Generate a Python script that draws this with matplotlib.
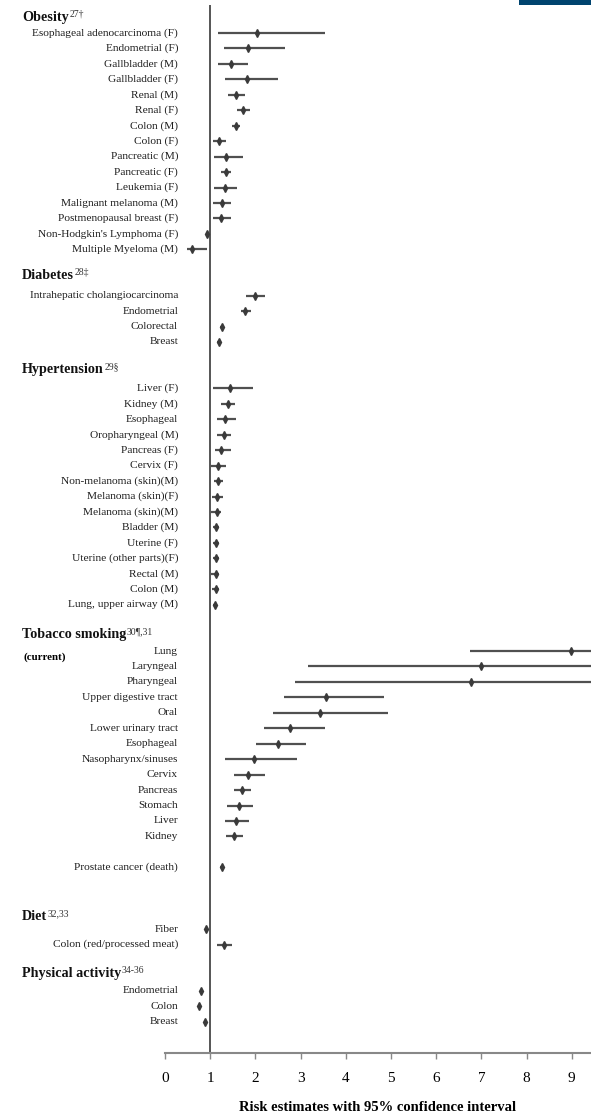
import matplotlib
matplotlib.use("Agg")
import matplotlib.pyplot as plt
from matplotlib.transforms import blended_transform_factory
from matplotlib.patches import Rectangle

# ---------------- data ----------------
obesity_labels = ["Esophageal adenocarcinoma (F)", "Endometrial (F)", "Gallbladder (M)",
                  "Gallbladder (F)", "Renal (M)", "Renal (F)", "Colon (M)", "Colon (F)",
                  "Pancreatic (M)", "Pancreatic (F)", "Leukemia (F)", "Malignant melanoma (M)",
                  "Postmenopausal breast (F)", "Non-Hodgkin's Lymphoma (F)", "Multiple Myeloma (M)"]
obesity_est = [2.04, 1.84, 1.47, 1.82, 1.56, 1.73, 1.57, 1.19, 1.36, 1.34, 1.33, 1.25, 1.23, 0.92, 0.60]
obesity_lo = [1.17, 1.31, 1.18, 1.33, 1.40, 1.60, 1.49, 1.07, 1.08, 1.23, 1.09, 1.07, 1.07, 0.90, 0.48]
obesity_hi = [3.55, 2.65, 1.84, 2.49, 1.78, 1.88, 1.65, 1.35, 1.73, 1.45, 1.60, 1.47, 1.45, 0.95, 0.94]

diabetes_labels = ["Intrahepatic cholangiocarcinoma", "Endometrial", "Colorectal", "Breast"]
diabetes_est = [1.99, 1.78, 1.25, 1.19]
diabetes_lo = [1.79, 1.69, 1.21, 1.16]
diabetes_hi = [2.21, 1.90, 1.29, 1.22]

hyper_labels = ["Liver (F)", "Kidney (M)", "Esophageal", "Oropharyngeal (M)", "Pancreas (F)",
                "Cervix (F)", "Non-melanoma (skin)(M)", "Melanoma (skin)(F)", "Melanoma (skin)(M)",
                "Bladder (M)", "Uterine (F)", "Uterine (other parts)(F)", "Rectal (M)",
                "Colon (M)", "Lung, upper airway (M)"]
hyper_est = [1.44, 1.39, 1.33, 1.31, 1.24, 1.18, 1.18, 1.16, 1.14, 1.13, 1.13, 1.13, 1.13, 1.13, 1.11]
hyper_lo = [1.07, 1.24, 1.14, 1.16, 1.11, 1.01, 1.08, 1.05, 1.02, 1.07, 1.07, 1.06, 1.01, 1.04, 1.07]
hyper_hi = [1.94, 1.55, 1.57, 1.47, 1.47, 1.34, 1.29, 1.28, 1.23, 1.20, 1.20, 1.20, 1.20, 1.20, 1.15]

tobacco_labels = ["Lung", "Laryngeal", "Pharyngeal", "Upper digestive tract", "Oral",
                  "Lower urinary tract", "Esophageal", "Nasopharynx/sinuses", "Cervix",
                  "Pancreas", "Stomach", "Liver", "Kidney"]
tobacco_est = [8.98, 6.99, 6.77, 3.57, 3.44, 2.77, 2.49, 1.96, 1.83, 1.70, 1.63, 1.57, 1.52]
tobacco_lo = [6.75, 3.16, 2.87, 2.64, 2.39, 2.18, 2.02, 1.33, 1.53, 1.53, 1.38, 1.32, 1.34]
tobacco_hi = [10.8, 15.7, 16.6, 4.84, 4.94, 3.53, 3.13, 2.92, 2.21, 1.91, 1.95, 1.86, 1.73]

prostate_labels = ["Prostate cancer (death)"]
prostate_est = [1.25]
prostate_lo = [1.22]
prostate_hi = [1.28]

diet_labels = ["Fiber", "Colon (red/processed meat)"]
diet_est = [0.91, 1.31]
diet_lo = [0.89, 1.14]
diet_hi = [0.93, 1.48]

activity_labels = ["Endometrial", "Colon", "Breast"]
activity_est = [0.80, 0.76, 0.88]
activity_lo = [0.78, 0.74, 0.86]
activity_hi = [0.82, 0.78, 0.90]

x_ticks = [0, 1, 2, 3, 4, 5, 6, 7, 8, 9]

# (title, superscript, labels, estimates, lower, upper, row step from previous section)
sections = [
    ("Obesity", "27\u2020", obesity_labels, obesity_est, obesity_lo, obesity_hi, 1),
    ("Diabetes", "28\u2021", diabetes_labels, diabetes_est, diabetes_lo, diabetes_hi, 3),
    ("Hypertension", "29\u00a7", hyper_labels, hyper_est, hyper_lo, hyper_hi, 3),
    ("Tobacco smoking", "30\u00b6,31", tobacco_labels, tobacco_est, tobacco_lo, tobacco_hi, 3),
    (None, None, prostate_labels, prostate_est, prostate_lo, prostate_hi, 2),
    ("Diet", "32,33", diet_labels, diet_est, diet_lo, diet_hi, 4),
    ("Physical activity", "34-36", activity_labels, activity_est, activity_lo, activity_hi, 3),
]
title_offsets = {"Obesity": 1.0, "Diabetes": 1.3, "Hypertension": 1.2,
                 "Tobacco smoking": 1.05, "Diet": 0.8, "Physical activity": 1.1}

# ---------------- figure ----------------
W, H = 591, 1116
fig = plt.figure(figsize=(W / 100, H / 100), dpi=100)
fig.patch.set_facecolor("white")

serif = ["Liberation Serif", "DejaVu Serif"]
line_col = "#505050"
mark_col = "#3a3a3a"

ax_left_px, ax_bottom_px = 165, 1053
ax = fig.add_axes([ax_left_px / W, 1 - ax_bottom_px / H, 1 - ax_left_px / W, ax_bottom_px / H])

row_px = 15.45          # vertical distance between rows (pixels)
first_row_px = 33       # first row centre from top (pixels)
y_top = -first_row_px / row_px
y_bottom = (ax_bottom_px - first_row_px) / row_px
ax.set_ylim(y_bottom, y_top)
ax.set_xlim(0, (W - ax_left_px) / 45.2)

label_x = 0.29
title_tr = blended_transform_factory(fig.transFigure, ax.transData)

last = -1
for title, sup, labels, est, lo, hi, step in sections:
    rows = [last + step + i for i in range(len(labels))]
    if title is not None:
        t = ax.text(22 / W, rows[0] - title_offsets[title], title, transform=title_tr,
                    ha="left", va="center", fontsize=10.2, fontweight="bold",
                    family=serif, color="#111111", clip_on=False)
        ax.annotate(sup, xy=(1, 1), xycoords=t, xytext=(0.3, 0.8), textcoords="offset points",
                    ha="left", va="top", fontsize=7, family=serif, color="#333333",
                    annotation_clip=False)
    ax.hlines(rows, lo, hi, colors=line_col, linewidth=1.6, zorder=2)
    ax.plot(est, rows, linestyle="none", marker="d", markersize=4.2,
            color=mark_col, zorder=3)
    for r, lab in zip(rows, labels):
        ax.text(label_x, r, lab, ha="right", va="center", fontsize=8.2,
                family=serif, color="#1e1e1e", clip_on=False)
    if title == "Tobacco smoking":
        ax.text(23 / W, rows[0] + 0.4, "(current)", transform=title_tr, ha="left",
                va="center", fontsize=7.8, fontweight="bold", family=serif, clip_on=False)
    last = rows[-1]

# reference line at risk = 1
ax.vlines(1, y_bottom, (5 - first_row_px) / row_px, colors="#555555", linewidth=1.4, zorder=1)

for side in ("left", "right", "top"):
    ax.spines[side].set_visible(False)
ax.spines["bottom"].set_color("#888888")
ax.spines["bottom"].set_linewidth(1.5)
ax.set_yticks([])
ax.set_xticks(x_ticks)
ax.set_xticklabels([str(v) for v in x_ticks], family=serif, fontsize=11)
ax.tick_params(axis="x", direction="out", length=4, width=1, color="#888888", pad=10)
ax.set_xlabel("Risk estimates with 95% confidence interval", family=serif, fontsize=10.5,
              fontweight="bold", labelpad=11)
ax.patch.set_alpha(0)

# header strip in the top-right corner
fig.patches.append(Rectangle((519 / W, 1 - 5 / H), 72 / W, 5 / H, transform=fig.transFigure,
                             facecolor="#00446f", edgecolor="none"))

fig.savefig("out.png", dpi=100)
